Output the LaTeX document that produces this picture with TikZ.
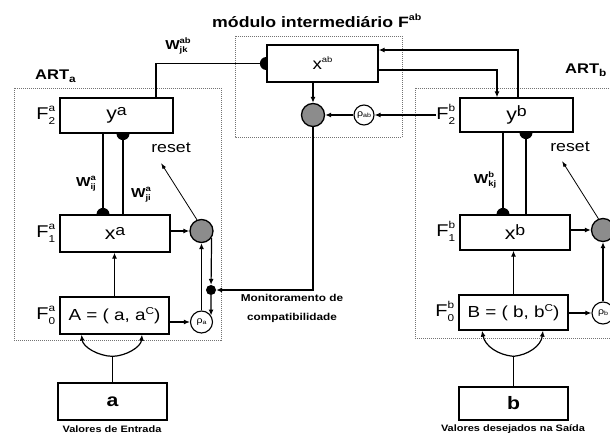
\documentclass[tikz,border=0pt]{standalone}
\usepackage{fontspec}
\setmainfont{Liberation Sans}[FakeStretch=1.18]
\usetikzlibrary{arrows.meta,calc}
\newcommand\fs[1]{\fontsize{#1}{#1}\selectfont}
% stacked superscript/subscript: size, baseline distance, lowering, sup, sub
\newcommand\supsub[5]{{\fontsize{#1}{#2}\selectfont\renewcommand\arraystretch{1}\raisebox{-#3}{\begin{tabular}[b]{@{}l@{}}#4\\#5\end{tabular}}}}
\newcommand\sups[3]{{\fs{#1}\raisebox{#2}{#3}}}
\newcommand\subs[3]{{\fs{#1}\raisebox{-#2}{#3}}}
\newcommand\halfdot[2]{\fill (#1) ++(#2:6.5) arc[start angle=#2, delta angle=180, radius=6.5] -- cycle;}
\tikzset{
  box/.style={draw, line width=1.3pt, fill=white, inner sep=0pt, font=\fs{16}},
  conn/.style={line width=1.2pt},
  arr/.style={conn, -{Latex[length=6pt,width=5pt]}},
  thinarr/.style={line width=0.8pt, -{Latex[length=6pt,width=4pt]}},
  dots/.style={draw=black!55, line width=0.7pt, dash pattern=on 1pt off 1pt},
  graycirc/.style={circle, draw, line width=1.3pt, fill=black!45, inner sep=0pt, minimum size=23pt},
  rhocirc/.style={circle, draw, line width=1.1pt, fill=white, inner sep=0pt, minimum size=22pt, font=\fs{9}},
  blackdot/.style={circle, fill, inner sep=0pt, minimum size=10pt},
  lbl/.style={inner sep=0pt},
}
\begin{document}
\begin{tikzpicture}[x=1pt,y=-1pt]
\useasboundingbox (0,0) rectangle (610,433);
\clip (0,0) rectangle (610,433);
\fill[white] (0,0) rectangle (610,433);

% dotted frames
\draw[dots] (14,88) rectangle (221,340);
\draw[dots] (235,36) rectangle (402,137);
\draw[dots] (415,88) rectangle (630,338);

% titles
\node[lbl, anchor=base west, font=\bfseries\fs{15}] (title) at (212,28) {módulo intermediário F\sups{9}{7pt}{ab}};
\node[lbl, anchor=base west, font=\bfseries\fs{14}] (arta) at (35,80) {ART\subs{10}{3pt}{a}};
\node[lbl, anchor=base west, font=\bfseries\fs{14}] (artb) at (565,74) {ART\subs{10}{3pt}{b}};

% ART a
\node[box, minimum width=113pt, minimum height=35pt, font=\fs{18}] (ya) at (116.5,115.5) {y\sups{15}{4pt}{a}};
\node[box, minimum width=110pt, minimum height=37pt, font=\fs{18}] (xa) at (115,233.5) {x\sups{15}{4pt}{a}};
\node[box, minimum width=109pt, minimum height=37pt] (A) at (114.5,315.5) {A = ( a, a\sups{10}{6pt}{C})};
\node[box, minimum width=109pt, minimum height=37pt, font=\bfseries\fs{18}] (abox) at (112.5,401.5) {a};

% ART b
\node[box, minimum width=113pt, minimum height=34pt, font=\fs{18}] (yb) at (516.5,115) {y\sups{15}{4pt}{b}};
\node[box, minimum width=110pt, minimum height=35pt, font=\fs{18}] (xb) at (515,232.5) {x\sups{15}{4pt}{b}};
\node[box, minimum width=109pt, minimum height=35pt] (B) at (513.5,312.5) {B = ( b, b\sups{10}{6pt}{C})};
\node[box, minimum width=109pt, minimum height=33pt, font=\bfseries\fs{18}] (bbox) at (513.5,403.5) {b};

% module
\node[box, minimum width=111pt, minimum height=37pt] (xab) at (322.5,63.5) {x\sups{8}{7pt}{ab}};

% circles
\node[graycirc] (Ga) at (201.5,231) {};
\node[graycirc] (Gm) at (313,115) {};
\node[graycirc] (Gb) at (603,230) {};
\node[rhocirc] (ra) at (201.5,322) {ρ\subs{6}{1.5pt}{a}};
\node[rhocirc, minimum size=20pt] (rab) at (364,115) {ρ\subs{6}{1.5pt}{ab}};
\node[rhocirc] (rb) at (603,313) {ρ\subs{6}{1.5pt}{b}};
\node[blackdot] (dot) at (211,290) {};

% layer labels
\node[lbl, anchor=east, font=\fs{17}] (F2a) at ([xshift=-4pt]ya.west) {F\supsub{10}{13pt}{5pt}{a}{2}};
\node[lbl, anchor=east, font=\fs{17}] (F1a) at ([xshift=-4pt]xa.west) {F\supsub{10}{13pt}{5pt}{a}{1}};
\node[lbl, anchor=east, font=\fs{17}] (F0a) at ([xshift=-4pt]A.west) {F\supsub{10}{13pt}{5pt}{a}{0}};
\node[lbl, anchor=east, font=\fs{17}] (F2b) at ([xshift=-4pt]yb.west) {F\supsub{10}{13pt}{5pt}{b}{2}};
\node[lbl, anchor=east, font=\fs{17}] (F1b) at ([xshift=-4pt]xb.west) {F\supsub{10}{13pt}{5pt}{b}{1}};
\node[lbl, anchor=east, font=\fs{17}] (F0b) at ([xshift=-4pt]B.west) {F\supsub{10}{13pt}{5pt}{b}{0}};

% weight labels
\node[lbl, font=\bfseries\fs{13}] (wija) at (86,183) {W\supsub{8}{9.5pt}{3.5pt}{a}{ij}};
\node[lbl, font=\bfseries\fs{13}] (wjia) at (141,194) {W\supsub{8}{9.5pt}{3.5pt}{a}{ji}};
\node[lbl, font=\bfseries\fs{13}] (wkjb) at (485,180) {W\supsub{8}{9.5pt}{3.5pt}{b}{kj}};
\node[lbl, font=\bfseries\fs{13}] (wjkab) at (178,46) {W\supsub{8}{9.5pt}{3.5pt}{ab}{jk}};

% other texts
\node[lbl, font=\fs{15}] (reseta) at (171,148) {reset};
\node[lbl, font=\fs{15}] (resetb) at (570,147) {reset};
\node[lbl, font=\bfseries\fontsize{10}{19}\selectfont, align=center] (mon) at (292,308) {Monitoramento de\\compatibilidade};
\node[lbl, font=\bfseries\fs{9.3}] (vala) at (112,429) {Valores de Entrada};
\node[lbl, font=\bfseries\fs{9.3}] (valb) at (513,429) {Valores desejados na Saída};

% connectors: module
\draw[conn] ([xshift=39.5pt]ya.north) |- (xab.west);
\halfdot{xab.west}{90}
\draw[arr] ([xshift=1.5pt]yb.north) |- ([yshift=13.5pt]xab.east);
\draw[arr] ([yshift=-6.5pt]xab.east) -| ([xshift=-19.5pt]yb.north);
\draw[arr] (xab.south -| Gm) -- (Gm);
\draw[arr] (rab) -- (Gm);
\draw[arr] (F2b.west |- rab) -- (rab);
\draw[arr] (Gm) |- (dot);

% connectors: ART a
\draw[conn] ([xshift=-13.5pt]ya.south) -- ([xshift=-12pt]xa.north);
\halfdot{[xshift=-12pt]xa.north}{180}
\draw[conn] ([xshift=6.5pt]ya.south) -- ([xshift=8pt]xa.north);
\halfdot{[xshift=6.5pt]ya.south}{0}
\draw[arr] (xa.east |- Ga) -- (Ga);
\draw[arr] (A.east |- ra) -- (ra);
\draw[arr] (ra) -- (Ga);
\draw[arr] (Ga.-34) -- (dot);
\draw[arr] (dot) -- (ra.34);
\draw[arr] (A.north) -- (A.north |- xa.south);
\coordinate (fa) at ([yshift=26pt]abox.north);
\draw[conn] (abox.north) -- (fa);
\draw[arr] (fa) .. controls (98,356) and (83,347) .. ([xshift=-33pt]A.south);
\draw[arr] (fa) .. controls (126,356) and (141,347) .. ([xshift=27.5pt]A.south);
\coordinate (rsa) at (161,163);
\draw[thinarr] (Ga.112) -- (rsa);

% connectors: ART b
\draw[conn] ([xshift=-13.5pt]yb.south) -- ([xshift=-12pt]xb.north);
\halfdot{[xshift=-12pt]xb.north}{180}
\draw[conn] ([xshift=9.5pt]yb.south) -- ([xshift=11pt]xb.north);
\halfdot{[xshift=9.5pt]yb.south}{0}
\draw[arr] (xb.east |- Gb) -- (Gb);
\draw[arr] (B.east |- rb) -- (rb);
\draw[arr] (rb) -- (Gb);
\draw[arr] (B.north) -- (B.north |- xb.south);
\coordinate (fb) at ([yshift=30pt]bbox.north);
\draw[conn] (bbox.north) -- (fb);
\draw[arr] (fb) .. controls (498,355) and (485,346) .. ([xshift=-31.5pt]B.south);
\draw[arr] (fb) .. controls (528,355) and (541,346) .. ([xshift=29.5pt]B.south);
\coordinate (rsb) at (562,161);
\draw[thinarr] (Gb.112) -- (rsb);
\end{tikzpicture}
\end{document}
